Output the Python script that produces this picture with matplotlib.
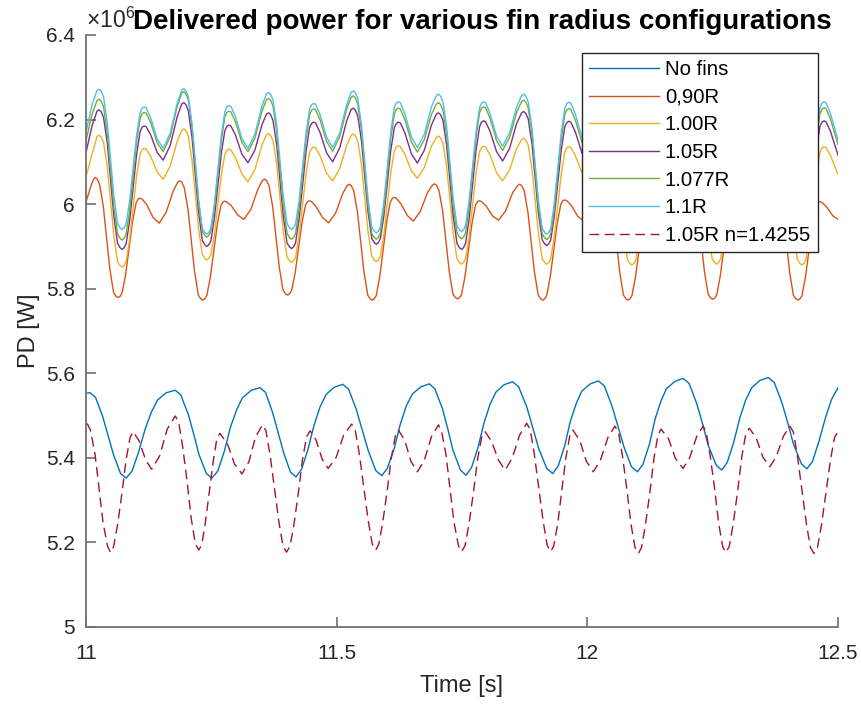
import matplotlib
matplotlib.use('Agg')
import matplotlib.pyplot as plt

# time samples shared by the 1.00R, 1.05R, 1.077R and 1.1R runs [s]
t_top = [
    11.000, 11.012, 11.022,
    11.026, 11.030, 11.035, 11.0425, 11.049, 11.0555, 11.063, 11.068, 11.072, 11.076, 11.080, 11.087, 11.094, 11.101, 11.108, 11.112, 11.116, 11.120, 11.129, 11.142, 11.154, 11.168, 11.182, 11.191,
    11.195, 11.199, 11.204, 11.2115, 11.218, 11.2245, 11.232, 11.237, 11.241, 11.245, 11.249, 11.256, 11.263, 11.270, 11.277, 11.281, 11.285, 11.289, 11.298, 11.311, 11.323, 11.337, 11.351, 11.360,
    11.364, 11.368, 11.373, 11.3805, 11.387, 11.3935, 11.401, 11.406, 11.410, 11.414, 11.418, 11.425, 11.432, 11.439, 11.446, 11.450, 11.454, 11.458, 11.467, 11.480, 11.492, 11.506, 11.520, 11.529,
    11.533, 11.537, 11.542, 11.5495, 11.556, 11.5625, 11.570, 11.575, 11.579, 11.583, 11.587, 11.594, 11.601, 11.608, 11.615, 11.619, 11.623, 11.627, 11.636, 11.649, 11.661, 11.675, 11.689, 11.699,
    11.703, 11.707, 11.712, 11.7195, 11.726, 11.7325, 11.740, 11.745, 11.749, 11.753, 11.757, 11.764, 11.771, 11.778, 11.785, 11.789, 11.793, 11.797, 11.806, 11.819, 11.831, 11.845, 11.859, 11.869,
    11.873, 11.877, 11.882, 11.8895, 11.896, 11.9025, 11.910, 11.915, 11.919, 11.923, 11.927, 11.934, 11.941, 11.948, 11.955, 11.959, 11.963, 11.967, 11.976, 11.989, 12.001, 12.015, 12.029, 12.039,
    12.043, 12.047, 12.052, 12.0595, 12.066, 12.0725, 12.080, 12.085, 12.089, 12.093, 12.097, 12.104, 12.111, 12.118, 12.125, 12.129, 12.133, 12.137, 12.146, 12.159, 12.171, 12.185, 12.199, 12.208,
    12.212, 12.216, 12.221, 12.2285, 12.235, 12.2415, 12.249, 12.254, 12.258, 12.262, 12.266, 12.273, 12.280, 12.287, 12.294, 12.298, 12.302, 12.306, 12.315, 12.328, 12.340, 12.354, 12.368, 12.378,
    12.382, 12.386, 12.391, 12.3985, 12.405, 12.4115, 12.419, 12.424, 12.428, 12.432, 12.436, 12.443, 12.450, 12.457, 12.464, 12.468, 12.472, 12.476, 12.485, 12.500,
]

# delivered power [MW]
pd_110 = [
    6.170, 6.235, 6.269,
    6.272, 6.268, 6.254, 6.192, 6.106, 6.020, 5.954, 5.944, 5.940, 5.944, 5.953, 6.007, 6.085, 6.163, 6.217, 6.227, 6.230, 6.228, 6.204, 6.154, 6.132, 6.168, 6.239, 6.270,
    6.273, 6.269, 6.254, 6.190, 6.101, 6.012, 5.943, 5.933, 5.929, 5.933, 5.943, 5.999, 6.081, 6.163, 6.219, 6.230, 6.233, 6.231, 6.207, 6.155, 6.132, 6.166, 6.232, 6.261,
    6.264, 6.260, 6.246, 6.186, 6.102, 6.018, 5.954, 5.944, 5.940, 5.944, 5.953, 6.009, 6.089, 6.169, 6.225, 6.235, 6.238, 6.236, 6.211, 6.158, 6.134, 6.168, 6.236, 6.265,
    6.268, 6.264, 6.250, 6.187, 6.100, 6.013, 5.946, 5.936, 5.932, 5.936, 5.946, 6.003, 6.087, 6.171, 6.228, 6.239, 6.242, 6.240, 6.214, 6.159, 6.134, 6.166, 6.230, 6.257,
    6.260, 6.256, 6.242, 6.182, 6.098, 6.013, 5.949, 5.939, 5.935, 5.939, 5.949, 6.006, 6.089, 6.171, 6.228, 6.239, 6.242, 6.240, 6.214, 6.161, 6.137, 6.169, 6.230, 6.257,
    6.260, 6.256, 6.242, 6.181, 6.095, 6.008, 5.943, 5.933, 5.929, 5.933, 5.943, 6.001, 6.085, 6.169, 6.227, 6.238, 6.241, 6.239, 6.213, 6.159, 6.135, 6.169, 6.235, 6.263,
    6.266, 6.262, 6.248, 6.186, 6.099, 6.012, 5.946, 5.936, 5.932, 5.936, 5.946, 6.003, 6.086, 6.169, 6.226, 6.237, 6.240, 6.238, 6.212, 6.158, 6.134, 6.167, 6.231, 6.259,
    6.262, 6.258, 6.244, 6.184, 6.099, 6.013, 5.949, 5.939, 5.935, 5.939, 5.949, 6.005, 6.088, 6.170, 6.226, 6.237, 6.240, 6.238, 6.212, 6.159, 6.135, 6.168, 6.232, 6.259,
    6.262, 6.258, 6.244, 6.182, 6.096, 6.010, 5.944, 5.934, 5.930, 5.934, 5.944, 6.002, 6.086, 6.170, 6.228, 6.239, 6.242, 6.240, 6.214, 6.152,
]

pd_1077 = [
    6.150, 6.212, 6.245,
    6.248, 6.244, 6.230, 6.168, 6.082, 5.995, 5.929, 5.919, 5.915, 5.919, 5.929, 5.984, 6.066, 6.148, 6.203, 6.214, 6.217, 6.215, 6.193, 6.145, 6.124, 6.160, 6.232, 6.263,
    6.266, 6.262, 6.247, 6.183, 6.094, 6.005, 5.936, 5.926, 5.922, 5.926, 5.935, 5.991, 6.071, 6.151, 6.207, 6.217, 6.220, 6.218, 6.195, 6.146, 6.124, 6.156, 6.220, 6.247,
    6.250, 6.246, 6.232, 6.170, 6.084, 5.997, 5.931, 5.921, 5.917, 5.921, 5.931, 5.988, 6.071, 6.154, 6.211, 6.222, 6.225, 6.223, 6.199, 6.148, 6.125, 6.159, 6.225, 6.253,
    6.256, 6.252, 6.237, 6.175, 6.087, 5.998, 5.931, 5.921, 5.917, 5.921, 5.931, 5.988, 6.072, 6.156, 6.213, 6.224, 6.227, 6.225, 6.200, 6.147, 6.123, 6.153, 6.212, 6.237,
    6.240, 6.236, 6.222, 6.163, 6.079, 5.995, 5.932, 5.922, 5.918, 5.922, 5.932, 5.990, 6.074, 6.158, 6.216, 6.227, 6.230, 6.228, 6.203, 6.150, 6.127, 6.158, 6.217, 6.243,
    6.246, 6.242, 6.228, 6.167, 6.081, 5.995, 5.930, 5.920, 5.916, 5.920, 5.930, 5.987, 6.071, 6.155, 6.212, 6.223, 6.226, 6.224, 6.199, 6.147, 6.124, 6.158, 6.224, 6.253,
    6.256, 6.252, 6.237, 6.175, 6.087, 5.999, 5.932, 5.922, 5.918, 5.922, 5.932, 5.989, 6.072, 6.155, 6.212, 6.223, 6.226, 6.224, 6.199, 6.147, 6.124, 6.156, 6.218, 6.245,
    6.248, 6.244, 6.230, 6.169, 6.083, 5.997, 5.932, 5.922, 5.918, 5.922, 5.932, 5.989, 6.072, 6.155, 6.212, 6.223, 6.226, 6.224, 6.199, 6.147, 6.124, 6.157, 6.221, 6.249,
    6.252, 6.248, 6.234, 6.172, 6.085, 5.997, 5.931, 5.921, 5.917, 5.921, 5.931, 5.989, 6.073, 6.156, 6.214, 6.225, 6.228, 6.226, 6.201, 6.141,
]

pd_105 = [
    6.122, 6.185, 6.220,
    6.223, 6.219, 6.205, 6.144, 6.058, 5.972, 5.907, 5.897, 5.893, 5.897, 5.906, 5.960, 6.039, 6.118, 6.172, 6.182, 6.185, 6.183, 6.164, 6.122, 6.104, 6.139, 6.207, 6.237,
    6.240, 6.236, 6.221, 6.158, 6.070, 5.982, 5.914, 5.904, 5.900, 5.904, 5.913, 5.966, 6.044, 6.121, 6.174, 6.184, 6.187, 6.185, 6.164, 6.118, 6.098, 6.128, 6.188, 6.213,
    6.216, 6.212, 6.198, 6.139, 6.056, 5.972, 5.908, 5.899, 5.895, 5.899, 5.908, 5.964, 6.045, 6.125, 6.181, 6.191, 6.194, 6.192, 6.169, 6.121, 6.100, 6.133, 6.197, 6.224,
    6.227, 6.223, 6.209, 6.150, 6.066, 5.982, 5.919, 5.909, 5.905, 5.909, 5.918, 5.971, 6.050, 6.128, 6.181, 6.191, 6.194, 6.192, 6.169, 6.119, 6.097, 6.128, 6.187, 6.213,
    6.216, 6.212, 6.198, 6.138, 6.055, 5.971, 5.907, 5.897, 5.893, 5.897, 5.907, 5.963, 6.045, 6.127, 6.183, 6.194, 6.197, 6.195, 6.172, 6.124, 6.102, 6.132, 6.191, 6.216,
    6.219, 6.215, 6.202, 6.143, 6.061, 5.978, 5.915, 5.906, 5.902, 5.906, 5.915, 5.970, 6.049, 6.128, 6.183, 6.193, 6.196, 6.194, 6.171, 6.122, 6.100, 6.132, 6.196, 6.223,
    6.226, 6.222, 6.208, 6.148, 6.063, 5.978, 5.914, 5.904, 5.900, 5.904, 5.913, 5.968, 6.048, 6.128, 6.183, 6.193, 6.196, 6.194, 6.171, 6.122, 6.100, 6.131, 6.191, 6.217,
    6.220, 6.216, 6.202, 6.143, 6.060, 5.977, 5.913, 5.904, 5.900, 5.904, 5.913, 5.968, 6.048, 6.128, 6.183, 6.193, 6.196, 6.194, 6.171, 6.122, 6.100, 6.131, 6.193, 6.219,
    6.222, 6.218, 6.204, 6.144, 6.061, 5.977, 5.913, 5.903, 5.899, 5.903, 5.912, 5.968, 6.048, 6.128, 6.184, 6.194, 6.197, 6.195, 6.172, 6.116,
]

pd_100 = [
    6.065, 6.118, 6.160,
    6.163, 6.159, 6.146, 6.088, 6.007, 5.926, 5.864, 5.855, 5.851, 5.855, 5.864, 5.916, 5.992, 6.067, 6.119, 6.129, 6.132, 6.130, 6.113, 6.076, 6.059, 6.090, 6.149, 6.175,
    6.178, 6.174, 6.161, 6.104, 6.023, 5.942, 5.881, 5.872, 5.868, 5.872, 5.880, 5.928, 5.999, 6.070, 6.118, 6.127, 6.130, 6.128, 6.110, 6.071, 6.053, 6.082, 6.140, 6.164,
    6.167, 6.163, 6.150, 6.094, 6.015, 5.935, 5.875, 5.866, 5.862, 5.866, 5.874, 5.925, 5.999, 6.072, 6.123, 6.132, 6.135, 6.133, 6.114, 6.073, 6.055, 6.084, 6.139, 6.163,
    6.166, 6.162, 6.149, 6.094, 6.015, 5.936, 5.877, 5.868, 5.864, 5.868, 5.876, 5.927, 6.001, 6.075, 6.126, 6.135, 6.138, 6.136, 6.118, 6.079, 6.061, 6.087, 6.137, 6.158,
    6.161, 6.157, 6.144, 6.088, 6.010, 5.931, 5.871, 5.862, 5.858, 5.862, 5.871, 5.922, 5.998, 6.073, 6.124, 6.134, 6.137, 6.135, 6.116, 6.074, 6.055, 6.081, 6.132, 6.153,
    6.156, 6.152, 6.140, 6.084, 6.007, 5.930, 5.871, 5.862, 5.858, 5.862, 5.871, 5.922, 5.997, 6.072, 6.123, 6.133, 6.136, 6.134, 6.115, 6.075, 6.057, 6.085, 6.139, 6.162,
    6.165, 6.161, 6.148, 6.091, 6.011, 5.930, 5.869, 5.860, 5.856, 5.860, 5.869, 5.920, 5.996, 6.072, 6.123, 6.133, 6.136, 6.134, 6.115, 6.075, 6.057, 6.084, 6.137, 6.159,
    6.162, 6.158, 6.145, 6.089, 6.010, 5.931, 5.871, 5.862, 5.858, 5.862, 5.871, 5.922, 5.997, 6.072, 6.123, 6.133, 6.136, 6.134, 6.115, 6.075, 6.057, 6.084, 6.138, 6.160,
    6.163, 6.159, 6.146, 6.089, 6.010, 5.930, 5.869, 5.860, 5.856, 5.860, 5.869, 5.920, 5.996, 6.072, 6.123, 6.133, 6.136, 6.134, 6.115, 6.070,
]

# the 0,90R run leads the others a little, so it has its own samples
t_090 = [
    11.000, 11.009, 11.014,
    11.018, 11.022, 11.027, 11.0345, 11.041, 11.0475, 11.055, 11.060, 11.064, 11.068, 11.072, 11.079, 11.086, 11.093, 11.100, 11.104, 11.108, 11.112, 11.121, 11.134, 11.146, 11.160, 11.174, 11.183,
    11.187, 11.191, 11.196, 11.2035, 11.210, 11.2165, 11.224, 11.229, 11.233, 11.237, 11.241, 11.248, 11.255, 11.262, 11.269, 11.273, 11.277, 11.281, 11.290, 11.303, 11.315, 11.329, 11.343, 11.352,
    11.356, 11.360, 11.365, 11.3725, 11.379, 11.3855, 11.393, 11.398, 11.402, 11.406, 11.410, 11.417, 11.424, 11.431, 11.438, 11.442, 11.446, 11.450, 11.459, 11.472, 11.484, 11.498, 11.512, 11.521,
    11.525, 11.529, 11.534, 11.5415, 11.548, 11.5545, 11.562, 11.567, 11.571, 11.575, 11.579, 11.586, 11.593, 11.600, 11.607, 11.611, 11.615, 11.619, 11.628, 11.641, 11.653, 11.667, 11.681, 11.691,
    11.695, 11.699, 11.704, 11.7115, 11.718, 11.7245, 11.732, 11.737, 11.741, 11.745, 11.749, 11.756, 11.763, 11.770, 11.777, 11.781, 11.785, 11.789, 11.798, 11.811, 11.823, 11.837, 11.851, 11.861,
    11.865, 11.869, 11.874, 11.8815, 11.888, 11.8945, 11.902, 11.907, 11.911, 11.915, 11.919, 11.926, 11.933, 11.940, 11.947, 11.951, 11.955, 11.959, 11.968, 11.981, 11.993, 12.007, 12.021, 12.031,
    12.035, 12.039, 12.044, 12.0515, 12.058, 12.0645, 12.072, 12.077, 12.081, 12.085, 12.089, 12.096, 12.103, 12.110, 12.117, 12.121, 12.125, 12.129, 12.138, 12.151, 12.163, 12.177, 12.191, 12.200,
    12.204, 12.208, 12.213, 12.2205, 12.227, 12.2335, 12.241, 12.246, 12.250, 12.254, 12.258, 12.265, 12.272, 12.279, 12.286, 12.290, 12.294, 12.298, 12.307, 12.320, 12.332, 12.346, 12.360, 12.370,
    12.374, 12.378, 12.383, 12.3905, 12.397, 12.4035, 12.411, 12.416, 12.420, 12.424, 12.428, 12.435, 12.442, 12.449, 12.456, 12.460, 12.464, 12.468, 12.477, 12.490, 12.500,
]
pd_090 = [
    6.005, 6.040, 6.056,
    6.063, 6.060, 6.047, 5.995, 5.921, 5.847, 5.791, 5.782, 5.779, 5.782, 5.790, 5.833, 5.897, 5.960, 6.003, 6.012, 6.014, 6.012, 5.999, 5.968, 5.955, 5.981, 6.031, 6.052,
    6.055, 6.052, 6.039, 5.987, 5.914, 5.841, 5.785, 5.776, 5.773, 5.776, 5.784, 5.827, 5.890, 5.953, 5.996, 6.005, 6.007, 6.005, 5.996, 5.974, 5.964, 5.988, 6.036, 6.056,
    6.059, 6.056, 6.044, 5.993, 5.922, 5.851, 5.797, 5.788, 5.785, 5.788, 5.795, 5.836, 5.897, 5.957, 5.998, 6.006, 6.008, 6.006, 5.994, 5.968, 5.956, 5.979, 6.025, 6.044,
    6.047, 6.044, 6.032, 5.981, 5.910, 5.839, 5.785, 5.776, 5.773, 5.776, 5.784, 5.829, 5.895, 5.960, 6.005, 6.014, 6.016, 6.014, 6.001, 5.973, 5.960, 5.983, 6.027, 6.045,
    6.048, 6.045, 6.033, 5.983, 5.912, 5.841, 5.787, 5.779, 5.776, 5.779, 5.786, 5.829, 5.892, 5.955, 5.998, 6.006, 6.008, 6.006, 5.996, 5.972, 5.962, 5.984, 6.027, 6.044,
    6.047, 6.044, 6.032, 5.981, 5.910, 5.839, 5.785, 5.776, 5.773, 5.776, 5.784, 5.828, 5.892, 5.955, 5.999, 6.008, 6.010, 6.008, 5.997, 5.971, 5.960, 5.984, 6.030, 6.049,
    6.052, 6.049, 6.037, 5.985, 5.913, 5.840, 5.785, 5.776, 5.773, 5.776, 5.784, 5.827, 5.891, 5.954, 5.997, 6.006, 6.008, 6.006, 5.996, 5.972, 5.962, 5.985, 6.029, 6.047,
    6.050, 6.047, 6.035, 5.984, 5.913, 5.841, 5.787, 5.778, 5.775, 5.778, 5.785, 5.829, 5.892, 5.954, 5.998, 6.006, 6.008, 6.006, 5.996, 5.972, 5.962, 5.985, 6.029, 6.047,
    6.050, 6.047, 6.035, 5.984, 5.912, 5.839, 5.785, 5.776, 5.773, 5.776, 5.783, 5.827, 5.890, 5.952, 5.996, 6.004, 6.006, 6.004, 5.994, 5.972, 5.964,
]

# no fins
t_nofins = [
    11.000, 11.008, 11.019, 11.033, 11.044, 11.055, 11.069,
    11.080, 11.092, 11.105, 11.118, 11.131, 11.143, 11.160, 11.178, 11.189, 11.204, 11.215, 11.225, 11.240,
    11.251, 11.263, 11.276, 11.288, 11.301, 11.312, 11.330, 11.347, 11.358, 11.372, 11.383, 11.394, 11.408,
    11.419, 11.430, 11.443, 11.455, 11.467, 11.479, 11.495, 11.512, 11.524, 11.539, 11.551, 11.563, 11.578,
    11.590, 11.601, 11.615, 11.627, 11.639, 11.651, 11.668, 11.685, 11.696, 11.711, 11.722, 11.732, 11.747,
    11.758, 11.769, 11.782, 11.794, 11.806, 11.818, 11.834, 11.851, 11.863, 11.879, 11.891, 11.903, 11.919,
    11.931, 11.942, 11.955, 11.966, 11.978, 11.989, 12.006, 12.022, 12.034, 12.049, 12.061, 12.073, 12.088,
    12.100, 12.111, 12.124, 12.135, 12.147, 12.158, 12.175, 12.191, 12.203, 12.218, 12.230, 12.241, 12.257,
    12.268, 12.279, 12.292, 12.304, 12.316, 12.328, 12.344, 12.361, 12.373, 12.388, 12.400, 12.411, 12.427,
    12.438, 12.449, 12.462, 12.475, 12.487, 12.500,
]
pd_nofins = [
    5.553, 5.554, 5.543, 5.499, 5.453, 5.407, 5.363,
    5.352, 5.369, 5.414, 5.468, 5.510, 5.537, 5.554, 5.560, 5.549, 5.503, 5.456, 5.409, 5.363,
    5.352, 5.369, 5.416, 5.472, 5.515, 5.542, 5.560, 5.566, 5.555, 5.508, 5.461, 5.413, 5.366,
    5.355, 5.373, 5.421, 5.478, 5.521, 5.550, 5.567, 5.574, 5.562, 5.515, 5.466, 5.417, 5.370,
    5.358, 5.375, 5.423, 5.480, 5.523, 5.551, 5.568, 5.575, 5.563, 5.516, 5.467, 5.418, 5.371,
    5.359, 5.377, 5.425, 5.483, 5.527, 5.556, 5.573, 5.580, 5.568, 5.521, 5.472, 5.422, 5.375,
    5.363, 5.381, 5.429, 5.486, 5.529, 5.558, 5.575, 5.582, 5.570, 5.523, 5.475, 5.426, 5.379,
    5.367, 5.385, 5.433, 5.491, 5.535, 5.564, 5.581, 5.588, 5.576, 5.529, 5.480, 5.430, 5.383,
    5.371, 5.389, 5.437, 5.494, 5.537, 5.566, 5.583, 5.590, 5.578, 5.531, 5.482, 5.433, 5.386,
    5.374, 5.391, 5.439, 5.495, 5.538, 5.566,
]

# 1.05R with n=1.4255
t_n14 = [
    11.000, 11.003, 11.009, 11.018, 11.026, 11.034, 11.043, 11.049, 11.055, 11.063, 11.072, 11.080, 11.088, 11.094, 11.106, 11.119, 11.131, 11.147, 11.162,
    11.178, 11.185, 11.193, 11.202, 11.210, 11.218, 11.225, 11.231, 11.238, 11.246, 11.254, 11.261, 11.267, 11.282, 11.296, 11.311, 11.325, 11.338,
    11.352, 11.359, 11.367, 11.376, 11.385, 11.393, 11.400, 11.407, 11.415, 11.424, 11.432, 11.440, 11.447, 11.459, 11.471, 11.483, 11.499, 11.514,
    11.530, 11.537, 11.545, 11.554, 11.563, 11.571, 11.578, 11.584, 11.592, 11.601, 11.609, 11.617, 11.623, 11.636, 11.648, 11.661, 11.675, 11.689,
    11.703, 11.709, 11.718, 11.726, 11.734, 11.743, 11.749, 11.756, 11.764, 11.773, 11.781, 11.789, 11.796, 11.809, 11.823, 11.836, 11.850, 11.865,
    11.879, 11.886, 11.894, 11.903, 11.912, 11.920, 11.927, 11.933, 11.941, 11.949, 11.957, 11.965, 11.971, 11.985, 11.998, 12.012, 12.026, 12.041,
    12.055, 12.062, 12.070, 12.079, 12.087, 12.095, 12.102, 12.108, 12.116, 12.125, 12.133, 12.141, 12.147, 12.162, 12.176, 12.191, 12.204, 12.218,
    12.231, 12.237, 12.245, 12.254, 12.262, 12.270, 12.276, 12.283, 12.291, 12.300, 12.308, 12.316, 12.323, 12.337, 12.350, 12.364, 12.377, 12.391,
    12.404, 12.411, 12.419, 12.428, 12.437, 12.445, 12.452, 12.459, 12.467, 12.476, 12.485, 12.493, 12.500,
]
pd_n14 = [
    5.479, 5.480, 5.465, 5.409, 5.328, 5.247, 5.191, 5.176, 5.190, 5.242, 5.319, 5.396, 5.448, 5.462, 5.440, 5.395, 5.373, 5.405, 5.468,
    5.499, 5.484, 5.425, 5.341, 5.256, 5.197, 5.182, 5.195, 5.246, 5.320, 5.394, 5.445, 5.458, 5.434, 5.386, 5.362, 5.391, 5.449,
    5.478, 5.464, 5.408, 5.328, 5.247, 5.191, 5.177, 5.191, 5.244, 5.321, 5.397, 5.450, 5.464, 5.442, 5.397, 5.375, 5.401, 5.454,
    5.480, 5.466, 5.411, 5.331, 5.251, 5.196, 5.182, 5.196, 5.248, 5.324, 5.400, 5.452, 5.466, 5.441, 5.392, 5.367, 5.395, 5.450,
    5.478, 5.464, 5.408, 5.328, 5.248, 5.192, 5.178, 5.192, 5.244, 5.320, 5.396, 5.448, 5.462, 5.439, 5.394, 5.371, 5.399, 5.454,
    5.482, 5.467, 5.411, 5.330, 5.249, 5.193, 5.178, 5.192, 5.245, 5.322, 5.399, 5.452, 5.466, 5.441, 5.392, 5.367, 5.394, 5.448,
    5.475, 5.461, 5.405, 5.325, 5.244, 5.188, 5.174, 5.188, 5.242, 5.321, 5.400, 5.454, 5.468, 5.445, 5.398, 5.375, 5.400, 5.450,
    5.475, 5.461, 5.406, 5.326, 5.245, 5.190, 5.176, 5.190, 5.244, 5.323, 5.402, 5.456, 5.470, 5.447, 5.402, 5.379, 5.403, 5.451,
    5.475, 5.461, 5.405, 5.325, 5.244, 5.188, 5.174, 5.188, 5.241, 5.318, 5.395, 5.448, 5.462,
]

labels = ['No fins', '0,90R', '1.00R', '1.05R', '1.077R', '1.1R', '1.05R n=1.4255']
colors = ['#0072BD', '#D95319', '#EDB120', '#7E2F8E', '#77AC30', '#4DBEEE', '#A2142F']

x_ticks = [11, 11.5, 12, 12.5]
x_tick_labels = ['11', '11.5', '12', '12.5']
y_ticks = [5.0, 5.2, 5.4, 5.6, 5.8, 6.0, 6.2, 6.4]
y_tick_labels = ['5', '5.2', '5.4', '5.6', '5.8', '6', '6.2', '6.4']

plt.rcParams['font.family'] = ['Liberation Sans', 'DejaVu Sans']
plt.rcParams['mathtext.fontset'] = 'custom'
plt.rcParams['mathtext.rm'] = 'Liberation Sans'

fig = plt.figure(figsize=(8.61, 7.04), dpi=100)
ax = fig.add_axes([86 / 861, 1 - 627 / 704, 752 / 861, 592 / 704])

series = [(t_nofins, pd_nofins), (t_090, pd_090), (t_top, pd_100), (t_top, pd_105),
          (t_top, pd_1077), (t_top, pd_110), (t_n14, pd_n14)]
for i, (t, p) in enumerate(series):
    if i == 6:
        ax.plot(t, p, color=colors[i], lw=1.0, dashes=(7, 4), label=labels[i])
    else:
        ax.plot(t, p, color=colors[i], lw=1.0, label=labels[i])

ax.set_xlim(11, 12.5)
ax.set_ylim(5, 6.4)
ax.set_xticks(x_ticks)
ax.set_xticklabels(x_tick_labels)
ax.set_yticks(y_ticks)
ax.set_yticklabels(y_tick_labels)

for s in ['top', 'right']:
    ax.spines[s].set_visible(False)
for s in ['left', 'bottom']:
    ax.spines[s].set_color('#707070')
    ax.spines[s].set_linewidth(1.3)
ax.tick_params(direction='in', length=7, width=1.2, color='#707070',
               labelsize=15, labelcolor='#262626', pad=8)
ax.tick_params(axis='x', pad=12)

ax.set_xlabel('Time [s]', fontsize=17, color='#262626', labelpad=9)
ax.set_ylabel('PD [W]', fontsize=17, color='#262626')
ax.set_title('Delivered power for various fin radius configurations',
             fontsize=20, fontweight='bold', x=0.527, pad=2)
ax.text(0.0, 1.012, '×10$^{6}$', transform=ax.transAxes, fontsize=16.5,
        ha='left', va='baseline', color='#262626')

leg = ax.legend(loc='upper right', bbox_to_anchor=(0.973, 0.970), fontsize=14.7,
                handlelength=3.4, handletextpad=0.3, labelspacing=0.42,
                borderpad=0.37, borderaxespad=0, fancybox=False,
                edgecolor='#262626', framealpha=1)
leg.get_frame().set_linewidth(1.0)

fig.savefig('out.png', dpi=100)
